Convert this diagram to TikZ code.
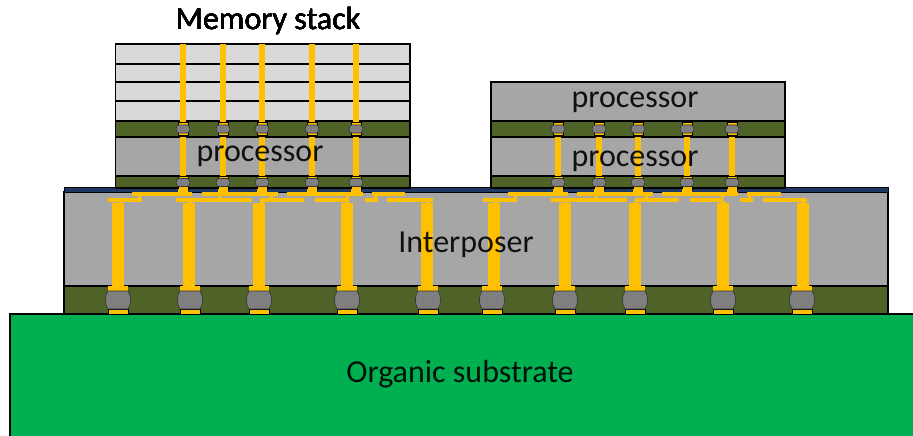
\documentclass[tikz,border=0pt]{standalone}
\usepackage{fontspec}
\setmainfont{Carlito}
\definecolor{LayerGreen}{RGB}{79, 98, 40}
\definecolor{DieGray}{RGB}{166, 166, 166}
\definecolor{MemGray}{RGB}{217, 217, 217}
\definecolor{SubGreen}{RGB}{0, 176, 80}
\definecolor{TsvGold}{RGB}{255, 192, 0}
\definecolor{BumpGray}{RGB}{127, 127, 127}
\definecolor{RdlBlue}{RGB}{31, 56, 100}
\tikzset{
  die/.style={draw=black, line width=1.3pt, fill=DieGray},
  memdie/.style={draw=black, line width=1.3pt, fill=MemGray},
  underfill/.style={draw=black, line width=1.3pt, fill=LayerGreen},
  substrate/.style={draw=black, line width=1.3pt, fill=SubGreen},
  rdlbar/.style={fill=TsvGold},
  pad/.style={draw=black, line width=0.5pt, fill=TsvGold},
  bump/.style={draw=black!80, line width=0.6pt, fill=BumpGray},
  label/.style={font=\fontsize{32}{36}\selectfont, text=black, text opacity=0.9, inner sep=0pt}
}
\newcommand{\smallbump}[2]{%
  \draw[pad] (#1-5,#2) rectangle (#1+5,#2+13);
  \draw[bump] (#1-5,#2+2.5) .. controls (#1-7.5,#2+5) and (#1-7.5,#2+8) .. (#1-5,#2+10.5)
    -- (#1+5,#2+10.5) .. controls (#1+7.5,#2+8) and (#1+7.5,#2+5) .. (#1+5,#2+2.5) -- cycle;
}
\newcommand{\bigbump}[1]{%
  \fill[TsvGold] (#1-10,286) rectangle (#1+10,291);
  \draw[pad] (#1-10,309) rectangle (#1+10,314);
  \draw[bump] (#1-10,291) .. controls (#1-13.5,296) and (#1-13.5,304) .. (#1-10,309)
    -- (#1+10,309) .. controls (#1+13.5,304) and (#1+13.5,296) .. (#1+10,291) -- cycle;
}
\begin{document}
\begin{tikzpicture}[x=1pt, y=-1pt]
    \clip (0,0) rectangle (913,436);
    % substrate and interposer
    \draw[substrate] (10,314) rectangle (920,445);
    \draw[underfill] (64,286) rectangle (888,314);
    \draw[die] (64,192) rectangle (888,286);
    \draw[draw=black, line width=1pt, fill=RdlBlue] (64,187) rectangle (888,192);
    % memory side
    \draw[memdie] (115.5,44) rectangle (410,64);
    \draw[memdie] (115.5,64) rectangle (410,82);
    \draw[memdie] (115.5,82) rectangle (410,101);
    \draw[memdie] (115.5,101) rectangle (410,121);
    \draw[underfill] (115.5,121) rectangle (410,137);
    \draw[die] (115.5,137) rectangle (410,176);
    \draw[underfill] (115.5,176) rectangle (410,188);
    % processor side
    \draw[die] (491,82) rectangle (785,121);
    \draw[underfill] (491,121) rectangle (785,137);
    \draw[die] (491,137) rectangle (785,176);
    \draw[underfill] (491,176) rectangle (785,188);
    % vias through the dies
    \foreach \x in {183,223,262,312,356}{
      \fill[TsvGold] (\x-2.8,44) rectangle (\x+2.8,122);
      \fill[TsvGold] (\x-2.8,137) rectangle (\x+2.8,176);
      \smallbump{\x}{122.5}
      \smallbump{\x}{176}
      \fill[TsvGold] (\x-5,188.5) rectangle (\x+5,192);
    }
    \foreach \x in {558,599,638,687,732}{
      \fill[TsvGold] (\x-2.8,137) rectangle (\x+2.8,176);
      \smallbump{\x}{122.5}
      \smallbump{\x}{176}
      \fill[TsvGold] (\x-5,188.5) rectangle (\x+5,192);
    }
    % redistribution bars
    \foreach \a/\b in {132/192,202/278,287/363,372/405,508/568,577/653,662/738,747/781}
      \fill[rdlbar] (\a,191.5) rectangle (\b,195.5);
    \foreach \a/\b in {108/142,176/252,260/304,315/349,365/378,387/433,483/517,551/627,635/679,690/723,740/753,763/807}
      \fill[rdlbar] (\a,197.5) rectangle (\b,201.5);
    \foreach \x in {139,220,271,347,375,515,595,646,722,749}
      \fill[rdlbar] (\x-1.5,195) rectangle (\x+1.5,198);
    \foreach \x in {120,190,262,347,427,495,565,635,723,803}
      \fill[rdlbar] (\x-1.5,201) rectangle (\x+1.5,204);
    % big vias and bumps
    \foreach \x in {118,189,259,347,427,494,565,635,723,803}
      \fill[TsvGold] (\x-6,203) rectangle (\x+6,286.5);
    \foreach \x in {118,190,259,347,428,492,565,635,723,802}
      \bigbump{\x}
    % labels
    \node[label] (memorylabel) at (268,21) {Memory stack};
    \node[label] (leftproc) at (260,156) {processor};
    \node[label] (topproc) at (635,102) {processor};
    \node[label] (rightproc) at (635,161) {processor};
    \node[label] (interposer) at (466,245) {Interposer};
    \node[label] (organic) at (460,374) {Organic substrate};
\end{tikzpicture}
\end{document}
